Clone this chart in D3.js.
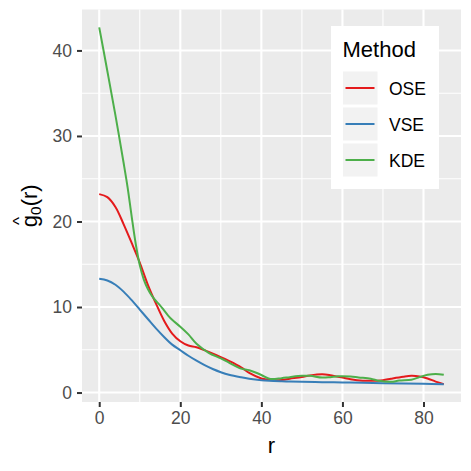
<!DOCTYPE html>
<html>
<head>
<meta charset="utf-8">
<script src="https://cdn.jsdelivr.net/npm/d3@7"></script>
<style>
  body { margin: 0; background: #fff; }
  svg { display: block; font-family: "Liberation Sans", Arial, sans-serif; }
</style>
</head>
<body>
<div id="chart"></div>
<script>
// values
const methods = ["OSE", "VSE", "KDE"];
const methodColors = ["#E41A1C", "#377EB8", "#4DAF4A"];

const rOse = [0, 2, 4, 6, 8, 10, 12, 14, 16, 18, 20, 22, 24, 27, 30, 32, 35, 37, 40, 42, 45, 47, 50, 52, 55, 57, 60, 62, 65, 67, 70, 72, 75, 77, 79, 81, 83, 85];
const ose = [23.2, 22.85, 21.7, 19.7, 17.5, 15.2, 12.6, 10.4, 8.4, 6.9, 6.0, 5.5, 5.3, 4.75, 4.15, 3.7, 2.95, 2.3, 1.65, 1.48, 1.48, 1.62, 1.82, 2.0, 2.13, 2.03, 1.75, 1.55, 1.38, 1.37, 1.45, 1.62, 1.85, 1.95, 1.88, 1.65, 1.28, 0.98];

const rVse = [0, 2, 4, 6, 8, 10, 12, 14, 16, 18, 20, 22, 24, 26, 28, 30, 32, 35, 37, 40, 42, 45, 47, 50, 55, 60, 65, 70, 75, 80, 85];
const vse = [13.3, 13.1, 12.6, 11.8, 10.8, 9.7, 8.6, 7.5, 6.5, 5.6, 4.95, 4.3, 3.72, 3.2, 2.75, 2.38, 2.08, 1.78, 1.62, 1.45, 1.38, 1.32, 1.29, 1.27, 1.21, 1.18, 1.14, 1.1, 1.06, 1.02, 0.98];

const rKde = [0, 2, 4, 6, 7, 8, 9, 10, 11, 12, 13, 14, 15, 16, 17, 18, 20, 22, 24, 27, 30, 32, 35, 37, 40, 42, 45, 47, 50, 52, 55, 57, 59, 62, 64, 67, 69, 72, 74, 77, 79, 81, 83, 85];
const kde = [42.7, 37.6, 32.4, 26.9, 24.0, 20.6, 17.4, 14.9, 13.2, 12.1, 11.3, 10.7, 10.2, 9.6, 9.0, 8.5, 7.7, 6.8, 5.7, 4.65, 4.0, 3.5, 2.8, 2.6, 2.05, 1.6, 1.68, 1.8, 1.95, 1.95, 1.75, 1.8, 1.9, 1.87, 1.76, 1.62, 1.37, 1.25, 1.4, 1.5, 1.8, 2.07, 2.18, 2.07];

const xTicks = [0, 20, 40, 60, 80];
const xMinor = [10, 30, 50, 70];
const yTicks = [0, 10, 20, 30, 40];
const yMinor = [5, 15, 25, 35];

const series = [
  { name: methods[0], color: methodColors[0], pts: rOse.map((r, i) => [r, ose[i]]) },
  { name: methods[1], color: methodColors[1], pts: rVse.map((r, i) => [r, vse[i]]) },
  { name: methods[2], color: methodColors[2], pts: rKde.map((r, i) => [r, kde[i]]) },
];

const width = 471, height = 471;
const panel = { left: 82, right: 461, top: 9.5, bottom: 402 };

// ggplot style 5% expansion
const expand = (lo, hi) => { const d = (hi - lo) * 0.05; return [lo - d, hi + d]; };
const allPts = series.flatMap(s => s.pts);
const x = d3.scaleLinear().domain(expand(0, 85)).range([panel.left, panel.right]);
const y = d3.scaleLinear().domain(expand(d3.min(allPts, d => d[1]), d3.max(allPts, d => d[1]))).range([panel.bottom, panel.top]);

const svg = d3.select("#chart").append("svg")
  .attr("width", width).attr("height", height);

// panel
svg.append("rect")
  .attr("x", panel.left).attr("y", panel.top)
  .attr("width", panel.right - panel.left).attr("height", panel.bottom - panel.top)
  .attr("fill", "#EBEBEB");

const grid = svg.append("g");
grid.selectAll(".xminor").data(xMinor).join("line")
  .attr("x1", d => x(d)).attr("x2", d => x(d)).attr("y1", panel.top).attr("y2", panel.bottom)
  .attr("stroke", "#fff").attr("stroke-width", 1.1);
grid.selectAll(".yminor").data(yMinor).join("line")
  .attr("y1", d => y(d)).attr("y2", d => y(d)).attr("x1", panel.left).attr("x2", panel.right)
  .attr("stroke", "#fff").attr("stroke-width", 1.1);
grid.selectAll(".xmajor").data(xTicks).join("line")
  .attr("x1", d => x(d)).attr("x2", d => x(d)).attr("y1", panel.top).attr("y2", panel.bottom)
  .attr("stroke", "#fff").attr("stroke-width", 2.1);
grid.selectAll(".ymajor").data(yTicks).join("line")
  .attr("y1", d => y(d)).attr("y2", d => y(d)).attr("x1", panel.left).attr("x2", panel.right)
  .attr("stroke", "#fff").attr("stroke-width", 2.1);

// curves (smooth through the read points)
const line = d3.line().x(d => x(d[0])).y(d => y(d[1])).curve(d3.curveCatmullRom.alpha(0.5));
svg.append("g").selectAll("path").data(series).join("path")
  .attr("d", d => line(d.pts))
  .attr("fill", "none")
  .attr("stroke", d => d.color)
  .attr("stroke-width", 2);

// axes
const xAxis = svg.append("g")
  .attr("transform", `translate(0,${panel.bottom})`)
  .call(d3.axisBottom(x).tickValues(xTicks).tickSize(5).tickPadding(5));
const yAxis = svg.append("g")
  .attr("transform", `translate(${panel.left},0)`)
  .call(d3.axisLeft(y).tickValues(yTicks).tickSize(5).tickPadding(5));
[xAxis, yAxis].forEach(a => {
  a.select(".domain").remove();
  a.selectAll(".tick line").attr("stroke", "#333333").attr("stroke-width", 2);
  a.selectAll(".tick text")
    .attr("fill", "#4D4D4D")
    .style("font-size", "17.5px")
    .style("font-family", "Liberation Sans, Arial, sans-serif");
});

// axis titles
svg.append("text")
  .attr("x", (panel.left + panel.right) / 2).attr("y", 453)
  .attr("text-anchor", "middle")
  .style("font-size", "22px")
  .text("r");

const yt = svg.append("g")
  .attr("transform", `translate(37,${(panel.top + panel.bottom) / 2}) rotate(-90)`);
const ytext = yt.append("text").style("font-size", "22px");
ytext.append("tspan").text("g");
ytext.append("tspan").text("0").style("font-size", "15.5px").attr("dy", 4);
ytext.append("tspan").text("(r)").attr("dy", -4);
const tw = ytext.node().getComputedTextLength();
ytext.attr("x", -tw / 2);
const gw = ytext.node().getSubStringLength(0, 1);
yt.append("text")
  .attr("x", -tw / 2 + gw / 2).attr("y", -12)
  .attr("text-anchor", "middle")
  .style("font-size", "17px")
  .text("^");

// legend
const legend = svg.append("g");
legend.append("rect")
  .attr("x", 331).attr("y", 26).attr("width", 108).attr("height", 163)
  .attr("fill", "#fff");
legend.append("text")
  .attr("x", 342.5).attr("y", 57)
  .style("font-size", "22px")
  .text("Method");
const key = legend.selectAll(".key").data(series).join("g")
  .attr("transform", (d, i) => `translate(343,${71.5 + i * 36})`);
key.append("rect")
  .attr("width", 34.5).attr("height", 33)
  .attr("fill", "#F2F2F2");
key.append("line")
  .attr("x1", 2.5).attr("x2", 31.5).attr("y1", 16.5).attr("y2", 16.5)
  .attr("stroke", d => d.color).attr("stroke-width", 2);
key.append("text")
  .attr("x", 46).attr("y", 23)
  .style("font-size", "17.5px")
  .text(d => d.name);
</script>
</body>
</html>
